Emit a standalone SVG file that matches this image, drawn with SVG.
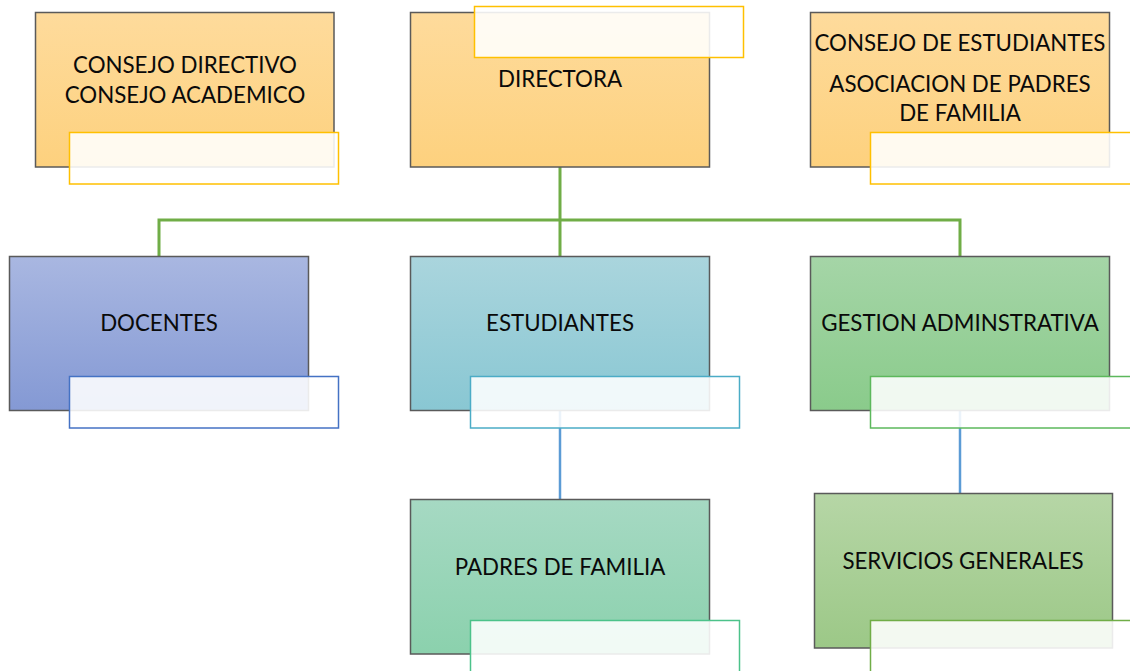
<svg xmlns="http://www.w3.org/2000/svg" width="1130" height="671" viewBox="0 0 1130 671">
<defs>
<linearGradient id="gO" x1="0" y1="0" x2="0" y2="1"><stop offset="0" stop-color="#fedb9c"/><stop offset="1" stop-color="#fdd17e"/></linearGradient>
<linearGradient id="gB" x1="0" y1="0" x2="0" y2="1"><stop offset="0" stop-color="#a9b7e1"/><stop offset="1" stop-color="#8499d4"/></linearGradient>
<linearGradient id="gT" x1="0" y1="0" x2="0" y2="1"><stop offset="0" stop-color="#aad5dd"/><stop offset="1" stop-color="#89c7d3"/></linearGradient>
<linearGradient id="gG" x1="0" y1="0" x2="0" y2="1"><stop offset="0" stop-color="#a5d5a7"/><stop offset="1" stop-color="#8acb8b"/></linearGradient>
<linearGradient id="gM" x1="0" y1="0" x2="0" y2="1"><stop offset="0" stop-color="#a6d9c3"/><stop offset="1" stop-color="#8bd1ad"/></linearGradient>
<linearGradient id="gS" x1="0" y1="0" x2="0" y2="1"><stop offset="0" stop-color="#b6d6a6"/><stop offset="1" stop-color="#9cc887"/></linearGradient>
</defs>
<style>
.box{stroke:#5a5a5a;stroke-width:1.5}
.ov{fill:#ffffff;fill-opacity:0.88;stroke-width:1.5}
.t{font-family:Lato,"Open Sans","Liberation Sans",sans-serif;font-size:22.3px;fill:#0a0a0a;text-anchor:middle}
.cg{stroke:#70ad47;stroke-width:3;fill:none}
.cb{stroke:#5b9bd5;stroke-width:2.5;fill:none}
</style>
<g id="connectors">
<path class="cg" d="M560 167 V220 M159 256 V220 H960 V256 M560 220 V256"/>
<path class="cb" d="M560 410 V499 M960 410 V493"/>
</g>
<g id="consejo-directivo">
<rect class="box" x="35.5" y="12.5" width="298.5" height="154.5" fill="url(#gO)"/>
<text class="t" x="185" y="73">CONSEJO DIRECTIVO</text>
<text class="t" x="185" y="103">CONSEJO ACADEMICO</text>
<rect class="ov" x="69.5" y="132.5" width="269" height="51.5" stroke="#ffc000"/>
</g>
<g id="directora">
<rect class="box" x="410.5" y="12.5" width="299" height="154.5" fill="url(#gO)"/>
<text class="t" x="560" y="87">DIRECTORA</text>
<rect class="ov" x="474.5" y="6.5" width="269" height="51" stroke="#ffc000"/>
</g>
<g id="consejo-estudiantes">
<rect class="box" x="810.5" y="12.5" width="299" height="154.5" fill="url(#gO)"/>
<text class="t" x="960" y="51">CONSEJO DE ESTUDIANTES</text>
<text class="t" x="960" y="92">ASOCIACION DE PADRES</text>
<text class="t" x="960" y="121">DE FAMILIA</text>
<rect class="ov" x="870.5" y="132.5" width="270" height="51.5" stroke="#ffc000"/>
</g>
<g id="docentes">
<rect class="box" x="9.5" y="256.5" width="299" height="154" fill="url(#gB)"/>
<text class="t" x="159" y="331">DOCENTES</text>
<rect class="ov" x="69.5" y="376.5" width="269" height="51.5" stroke="#4472c4"/>
</g>
<g id="estudiantes">
<rect class="box" x="410.5" y="256.5" width="299" height="154" fill="url(#gT)"/>
<text class="t" x="560" y="331">ESTUDIANTES</text>
<rect class="ov" x="470.5" y="376.5" width="269" height="51.5" stroke="#4bacc6"/>
</g>
<g id="gestion">
<rect class="box" x="810.5" y="256.5" width="299" height="154" fill="url(#gG)"/>
<text class="t" x="960" y="331">GESTION ADMINSTRATIVA</text>
<rect class="ov" x="870.5" y="376.5" width="270" height="51.5" stroke="#5cb85c"/>
</g>
<g id="padres">
<rect class="box" x="410.5" y="499.5" width="299" height="154.5" fill="url(#gM)"/>
<text class="t" x="560" y="575">PADRES DE FAMILIA</text>
<rect class="ov" x="470.5" y="620.5" width="269" height="60" stroke="#4cc28a"/>
</g>
<g id="servicios">
<rect class="box" x="814.5" y="493.5" width="298" height="154.5" fill="url(#gS)"/>
<text class="t" x="963" y="569">SERVICIOS GENERALES</text>
<rect class="ov" x="870.5" y="620.5" width="270" height="60" stroke="#70ad47"/>
</g>
</svg>
